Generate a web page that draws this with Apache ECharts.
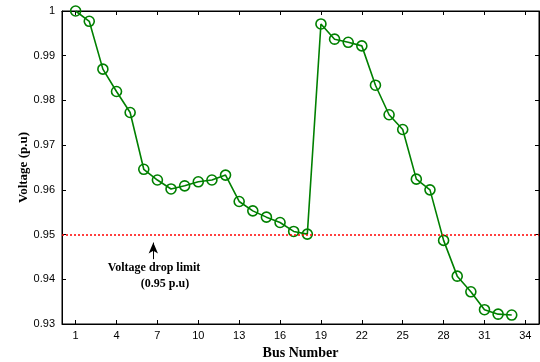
<!DOCTYPE html>
<html><head><meta charset="utf-8">
<script src="https://cdn.jsdelivr.net/npm/echarts@6/dist/echarts.min.js"></script>
<style>html,body{margin:0;padding:0;background:#fff}#c{width:540px;height:362px}</style>
</head><body><div id="c"></div>
<script>
const buses = [1,2,3,4,5,6,7,8,9,10,11,12,13,14,15,16,17,18,19,20,21,22,23,24,25,26,27,28,29,30,31,32,33];
const voltage = [1.0000,0.9977,0.9870,0.9820,0.9773,0.9646,0.9622,0.9602,0.9609,0.9618,0.9622,0.9633,0.9574,0.9553,0.9539,0.9527,0.9507,0.9501,0.9971,0.9937,0.9930,0.9922,0.9834,0.9768,0.9735,0.9624,0.9600,0.9487,0.9407,0.9372,0.9332,0.9322,0.9320];
const xTicks = [1,4,7,10,13,16,19,22,25,28,31,34];
const limit = 0.95;
const annotationLines = ['Voltage drop limit', '(0.95 p.u)'];

const chart = echarts.init(document.getElementById('c'));
const serif = '"Liberation Serif","Times New Roman",serif';
const sans = '"Liberation Sans",Arial,sans-serif';
const tickStyle = {show:true, inside:true, length:4, lineStyle:{color:'#000', width:1}};
chart.setOption({
  animation:false,
  backgroundColor:'#fff',
  grid:{left:62, right:1, top:11, bottom:38, show:true, borderColor:'#000', borderWidth:1, containLabel:false, outerBoundsMode:'none'},
  xAxis:[{
    type:'value', min:0, max:35, position:'bottom',
    axisLine:{show:true, onZero:false, lineStyle:{color:'#000', width:1}},
    axisTick:Object.assign({customValues:xTicks}, tickStyle),
    axisLabel:{customValues:xTicks, color:'#000', fontFamily:sans, fontSize:11, margin:6},
    splitLine:{show:false},
    name:'Bus Number', nameLocation:'middle', nameGap:21,
    nameTextStyle:{fontFamily:serif, fontWeight:'bold', fontSize:14, color:'#000'}
  },{
    type:'value', min:0, max:35, position:'top',
    axisLine:{show:true, onZero:false, lineStyle:{color:'#000', width:1}},
    axisTick:Object.assign({customValues:xTicks}, tickStyle),
    axisLabel:{show:false}, splitLine:{show:false}
  }],
  yAxis:[{
    type:'value', min:0.93, max:1, interval:0.01, position:'left',
    axisLine:{show:true, onZero:false, lineStyle:{color:'#000', width:1}},
    axisTick:tickStyle,
    axisLabel:{color:'#000', fontFamily:sans, fontSize:11, margin:7,
      formatter:v => (Math.abs(v-1)<1e-9 ? '1' : v.toFixed(2))},
    splitLine:{show:false},
    name:'Voltage (p.u)', nameLocation:'middle', nameGap:32, nameMoveOverlap:false,
    nameTextStyle:{fontFamily:serif, fontWeight:'bold', fontSize:13, color:'#000'}
  },{
    type:'value', min:0.93, max:1, interval:0.01, position:'right',
    axisLine:{show:true, onZero:false, lineStyle:{color:'#000', width:1}},
    axisTick:tickStyle, axisLabel:{show:false}, splitLine:{show:false}
  }],
  series:[{
    type:'line',
    data:buses.map((b,i)=>[b, voltage[i]]),
    symbol:'circle', symbolSize:10,
    lineStyle:{color:'#008000', width:1.6},
    itemStyle:{color:'rgba(255,255,255,0)', borderColor:'#008000', borderWidth:1.6},
    z:3,
    markLine:{
      silent:true, symbol:['none','none'],
      lineStyle:{color:'#ff0000', type:[2,2], width:1.6},
      label:{show:false},
      data:[{yAxis:limit}]
    }
  },{
    type:'line', data:[],
    markLine:{
      silent:true, symbol:['none','arrow'], symbolSize:[7,11],
      lineStyle:{color:'#000', type:'solid', width:1},
      label:{show:false},
      data:[[{coord:[6.7,0.9445]},{coord:[6.7,0.9482]}]]
    }
  }],
  graphic:[{
    type:'text',
    style:{text:annotationLines[0], font:'bold 12px '+serif, fill:'#000', x:154, y:268, align:'center', verticalAlign:'middle'}
  },{
    type:'text',
    style:{text:annotationLines[1], font:'bold 12px '+serif, fill:'#000', x:165, y:284, align:'center', verticalAlign:'middle'}
  }]
});
</script></body></html>
